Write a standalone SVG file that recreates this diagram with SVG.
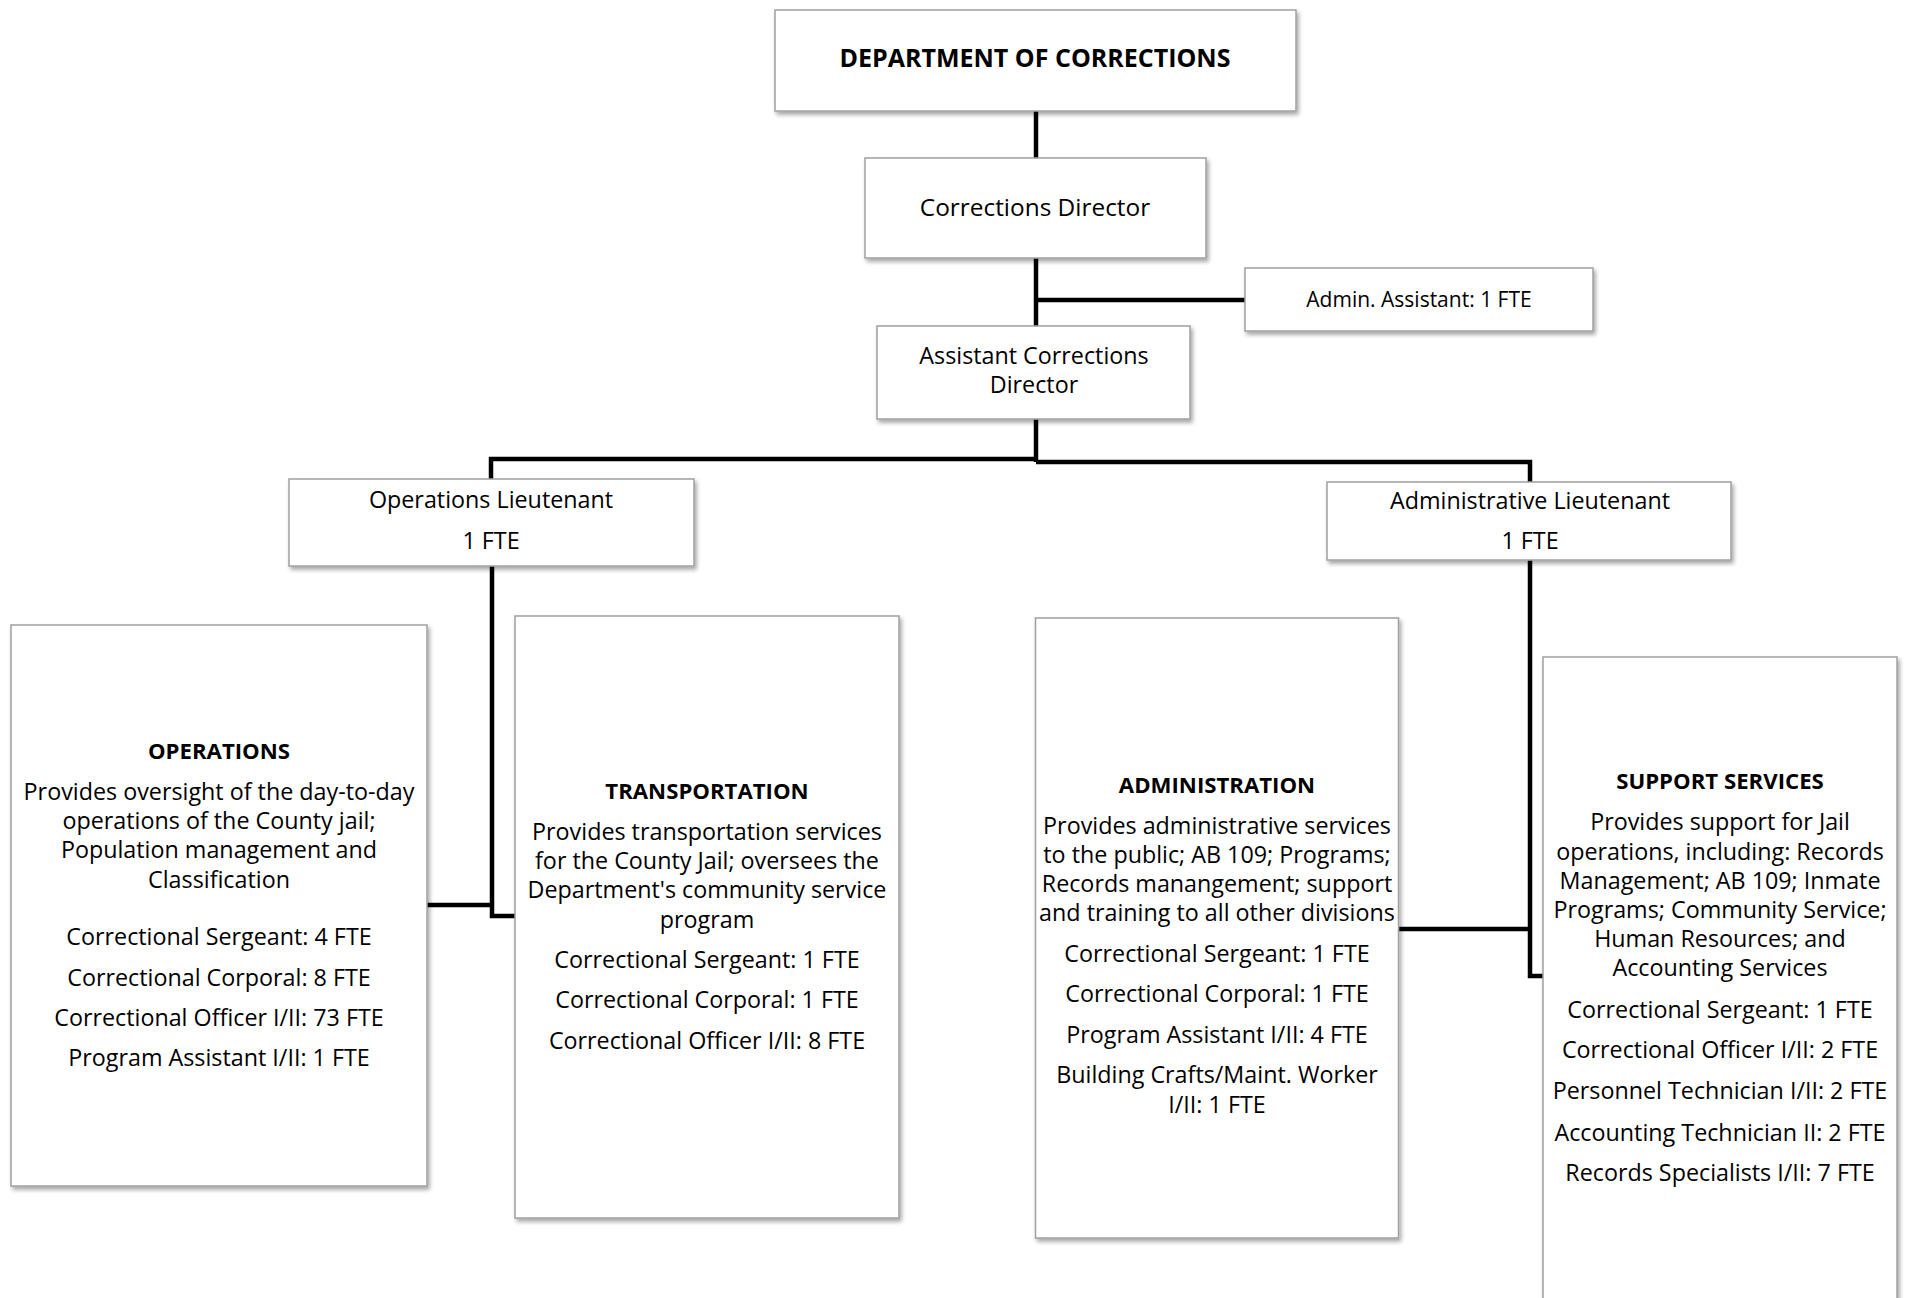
<svg xmlns="http://www.w3.org/2000/svg" width="1908" height="1298" viewBox="0 0 1908 1298">
<defs>
<filter id="sh" x="-10%" y="-10%" width="130%" height="130%">
<feDropShadow dx="2" dy="3" stdDeviation="2" flood-color="#000" flood-opacity="0.35"/>
</filter>
<style>
.box{fill:#fff;stroke:#a0a0a0;stroke-width:1.5;filter:url(#sh)}
.t{font-family:"Open Sans","Liberation Sans",sans-serif;font-size:23.3px;fill:#000;text-anchor:middle}
.b{font-weight:bold;font-size:22.2px}
.conn{fill:none;stroke:#000;stroke-width:4.5;stroke-linejoin:miter}
</style>
</defs>
<rect width="1908" height="1298" fill="#fff"/>
<g id="connectors">
<path class="conn" d="M1036 111 V158"/>
<path class="conn" d="M1036 258 V326"/>
<path class="conn" d="M1036 300 H1245"/>
<path class="conn" d="M1036 419 V462"/>
<path class="conn" d="M1036 459 H491 V479"/>
<path class="conn" d="M1036 462 H1530 V482"/>
<path class="conn" d="M492 566 V916 H515"/>
<path class="conn" d="M427 905 H492"/>
<path class="conn" d="M1530 560 V976 H1543"/>
<path class="conn" d="M1398 929 H1530"/>
</g>
<g id="dept">
<rect class="box" x="775" y="10" width="521" height="101"/>
<text class="t b" x="1035" y="67" style="font-size:25px">DEPARTMENT OF CORRECTIONS</text>
</g>
<g id="director">
<rect class="box" x="865" y="158" width="341" height="100"/>
<text class="t" x="1035" y="216" style="font-size:24.4px">Corrections Director</text>
</g>
<g id="admin-assistant">
<rect class="box" x="1245" y="268" width="348" height="63"/>
<text class="t" x="1419" y="307" style="font-size:21px">Admin. Assistant: 1 FTE</text>
</g>
<g id="assistant-director">
<rect class="box" x="877" y="326" width="313" height="93"/>
<text class="t" x="1034" y="364">Assistant Corrections</text>
<text class="t" x="1034" y="393">Director</text>
</g>
<g id="operations-lt">
<rect class="box" x="289" y="479" width="405" height="87"/>
<text class="t" x="491" y="508">Operations Lieutenant</text>
<text class="t" x="491" y="549">1 FTE</text>
</g>
<g id="administrative-lt">
<rect class="box" x="1327" y="482" width="404" height="78"/>
<text class="t" x="1530" y="509">Administrative Lieutenant</text>
<text class="t" x="1530" y="549">1 FTE</text>
</g>
<g id="operations">
<rect class="box" x="11" y="625" width="416" height="561"/>
<text class="t b" x="219" y="759">OPERATIONS</text>
<text class="t" x="219" y="800">Provides oversight of the day-to-day</text>
<text class="t" x="219" y="829">operations of the County jail;</text>
<text class="t" x="219" y="858">Population management and</text>
<text class="t" x="219" y="888">Classification</text>
<text class="t" x="219" y="945">Correctional Sergeant: 4 FTE</text>
<text class="t" x="219" y="986">Correctional Corporal: 8 FTE</text>
<text class="t" x="219" y="1026">Correctional Officer I/II: 73 FTE</text>
<text class="t" x="219" y="1066">Program Assistant I/II: 1 FTE</text>
</g>
<g id="transportation">
<rect class="box" x="515" y="616" width="384" height="602"/>
<text class="t b" x="707" y="799">TRANSPORTATION</text>
<text class="t" x="707" y="840">Provides transportation services</text>
<text class="t" x="707" y="869">for the County Jail; oversees the</text>
<text class="t" x="707" y="898">Department's community service</text>
<text class="t" x="707" y="928">program</text>
<text class="t" x="707" y="968">Correctional Sergeant: 1 FTE</text>
<text class="t" x="707" y="1008">Correctional Corporal: 1 FTE</text>
<text class="t" x="707" y="1049">Correctional Officer I/II: 8 FTE</text>
</g>
<g id="administration">
<rect class="box" x="1035.5" y="618" width="363" height="620"/>
<text class="t b" x="1217" y="793">ADMINISTRATION</text>
<text class="t" x="1217" y="834">Provides administrative services</text>
<text class="t" x="1217" y="863">to the public; AB 109; Programs;</text>
<text class="t" x="1217" y="892">Records manangement; support</text>
<text class="t" x="1217" y="921">and training to all other divisions</text>
<text class="t" x="1217" y="962">Correctional Sergeant: 1 FTE</text>
<text class="t" x="1217" y="1002">Correctional Corporal: 1 FTE</text>
<text class="t" x="1217" y="1043">Program Assistant I/II: 4 FTE</text>
<text class="t" x="1217" y="1083">Building Crafts/Maint. Worker</text>
<text class="t" x="1217" y="1113">I/II: 1 FTE</text>
</g>
<g id="support-services">
<rect class="box" x="1543" y="657" width="354" height="660"/>
<text class="t b" x="1720" y="789">SUPPORT SERVICES</text>
<text class="t" x="1720" y="830">Provides support for Jail</text>
<text class="t" x="1720" y="860">operations, including: Records</text>
<text class="t" x="1720" y="889">Management; AB 109; Inmate</text>
<text class="t" x="1720" y="918">Programs; Community Service;</text>
<text class="t" x="1720" y="947">Human Resources; and</text>
<text class="t" x="1720" y="976">Accounting Services</text>
<text class="t" x="1720" y="1018">Correctional Sergeant: 1 FTE</text>
<text class="t" x="1720" y="1058">Correctional Officer I/II: 2 FTE</text>
<text class="t" x="1720" y="1099">Personnel Technician I/II: 2 FTE</text>
<text class="t" x="1720" y="1141">Accounting Technician II: 2 FTE</text>
<text class="t" x="1720" y="1181">Records Specialists I/II: 7 FTE</text>
</g>
</svg>
